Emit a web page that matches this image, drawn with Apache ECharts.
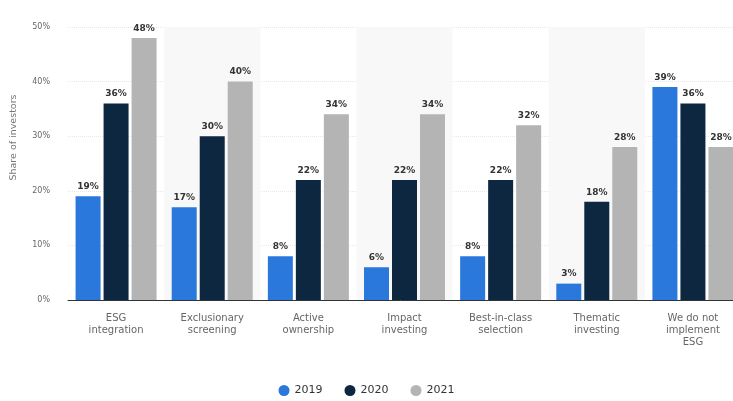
<!DOCTYPE html>
<html>
<head>
<meta charset="utf-8">
<script src="https://cdn.jsdelivr.net/npm/echarts@6/dist/echarts.min.js"></script>
<style>
  html, body { margin: 0; padding: 0; background: #ffffff; }
  #chart { width: 733px; height: 401px; }
</style>
</head>
<body>
<div id="chart"></div>
<script>
// Approaches to ESG investing, share of investors by year
const categories = [
  'ESG\nintegration',
  'Exclusionary\nscreening',
  'Active\nownership',
  'Impact\ninvesting',
  'Best-in-class\nselection',
  'Thematic\ninvesting',
  'We do not\nimplement\nESG'
];
const years = ['2019', '2020', '2021'];
const values2019 = [19, 17, 8, 6, 8, 3, 39];
const values2020 = [36, 30, 22, 22, 22, 18, 36];
const values2021 = [48, 40, 34, 34, 32, 28, 28];
const yTicks = [0, 10, 20, 30, 40, 50];

const colors = ['#2a78dc', '#0e2740', '#b4b4b4'];
const allValues = [values2019, values2020, values2021];

const chart = echarts.init(document.getElementById('chart'), null, { renderer: 'canvas' });

const series = years.map((y, i) => ({
  name: y,
  type: 'bar',
  data: allValues[i],
  barWidth: 25,
  barGap: '12%',
  itemStyle: { color: colors[i] },
  label: {
    show: true,
    position: 'top',
    distance: 5,
    formatter: '{c}%',
    color: '#333333',
    fontSize: 9,
    fontFamily: 'DejaVu Sans',
    fontWeight: 'bold'
  }
}));

chart.setOption({
  animation: false,
  textStyle: { fontFamily: 'DejaVu Sans' },
  legend: {
    data: years,
    bottom: 0,
    left: 'center',
    icon: 'circle',
    itemWidth: 11,
    itemHeight: 11,
    itemGap: 22,
    textStyle: { color: '#333333', fontSize: 11 }
  },
  grid: {
    left: 68,
    top: 27,
    width: 673,
    height: 273,
    containLabel: false,
    outerBoundsMode: 'none'
  },
  xAxis: {
    type: 'category',
    data: categories,
    axisTick: { show: false },
    axisLine: { show: true, lineStyle: { color: '#333333', width: 1 } },
    axisLabel: {
      color: '#666666',
      fontSize: 10,
      lineHeight: 12,
      margin: 12,
      interval: 0
    },
    splitArea: {
      show: true,
      areaStyle: { color: ['rgba(255,255,255,0)', '#f8f8f8'] }
    }
  },
  yAxis: {
    type: 'value',
    min: yTicks[0],
    max: yTicks[yTicks.length - 1],
    interval: 10,
    name: 'Share of investors',
    nameLocation: 'middle',
    nameGap: 49,
    nameTextStyle: { color: '#777777', fontSize: 9.5, padding: [0, 0, 0, 52] },
    axisLine: { show: false },
    axisTick: { show: false },
    axisLabel: { color: '#666666', fontSize: 8, margin: 18, formatter: '{value}%' },
    splitLine: { lineStyle: { color: '#e8e8e8', type: 'dotted' } }
  },
  series: series
});
</script>
</body>
</html>
